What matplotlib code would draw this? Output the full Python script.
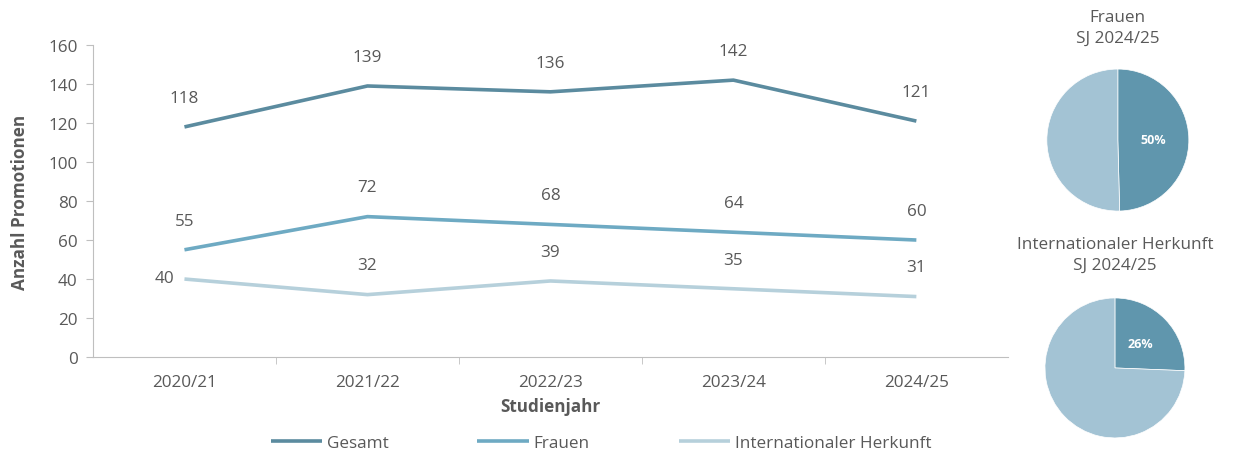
import matplotlib.pyplot as plt
import numpy as np

plt.rcParams['font.family'] = ['Open Sans', 'DejaVu Sans']

years = ['2020/21', '2021/22', '2022/23', '2023/24', '2024/25']
gesamt = [118, 139, 136, 142, 121]
frauen = [55, 72, 68, 64, 60]
intl = [40, 32, 39, 35, 31]

c_gesamt = '#5b8b9f'
c_frauen = '#6eaac3'
c_intl = '#b6d0db'
c_dark = '#6096ad'
c_light = '#a3c3d4'
txt = '#595959'
grey = '#bfbfbf'
fs = 12.3

fig = plt.figure(figsize=(12.33, 4.64), dpi=100)
ax = fig.add_axes([0.0754, 0.2284, 0.742, 0.6724])

x = np.arange(len(years))
series = [('Gesamt', gesamt, c_gesamt), ('Frauen', frauen, c_frauen),
          ('Internationaler Herkunft', intl, c_intl)]
for name, vals, col in series:
    ax.plot(x, vals, color=col, lw=2.6, label=name, solid_capstyle='butt')
    for i, v in enumerate(vals):
        if name == 'Internationaler Herkunft' and i == 0:
            ax.annotate(str(v), (i, v), xytext=(-7, 1), textcoords='offset points',
                        ha='right', va='center', fontsize=fs, color=txt)
        else:
            ax.annotate(str(v), (i, v), xytext=(0, 21), textcoords='offset points',
                        ha='center', va='center', fontsize=fs, color=txt)

ax.set_xlim(-0.5, len(years) - 0.5)
ax.set_ylim(0, 160)
ax.set_yticks(range(0, 161, 20))
ax.set_xticks(x)
ax.set_xticklabels(years)
ax.set_xticks(np.arange(0.5, len(years) - 0.5, 1), minor=True)
ax.tick_params(axis='x', which='major', length=0, pad=12, labelsize=fs, labelcolor=txt)
ax.tick_params(axis='x', which='minor', length=5, color=grey, direction='out')
ax.tick_params(axis='y', length=5, color=grey, labelsize=fs, labelcolor=txt, pad=6)
for s in ['top', 'right']:
    ax.spines[s].set_visible(False)
for s in ['left', 'bottom']:
    ax.spines[s].set_color(grey)
ax.set_xlabel('Studienjahr', fontsize=fs, fontweight='bold', color=txt, labelpad=5)
ax.set_ylabel('Anzahl Promotionen', fontsize=fs, fontweight='bold', color=txt, labelpad=14)

fig.legend(loc='lower center', bbox_to_anchor=(0.4875, -0.008), ncol=3, frameon=False,
           handlelength=3.0, handletextpad=0.3, columnspacing=5.2, fontsize=fs,
           labelcolor=txt)

# pies for the latest year
share_f = frauen[-1] / gesamt[-1]
share_i = intl[-1] / gesamt[-1]
pies = [('Frauen\nSJ 2024/25', share_f, [0.849, 0.543, 0.1152, 0.306], 0.978),
        ('Internationaler Herkunft\nSJ 2024/25', share_i, [0.8475, 0.054, 0.1135, 0.3017], 0.49)]
for title, share, rect, ty in pies:
    pa = fig.add_axes(rect)
    pa.pie([share, 1 - share], colors=[c_dark, c_light], startangle=90, counterclock=False,
           radius=1, wedgeprops=dict(linewidth=0.5, edgecolor='white'))
    pa.set_xlim(-1, 1)
    pa.set_ylim(-1, 1)
    pa.set_aspect('equal')
    ang = np.deg2rad(90 - 360 * share / 2)
    r = 0.5
    pa.text(r * np.cos(ang), r * np.sin(ang), f'{round(share * 100)}%',
            ha='center', va='center', color='white', fontsize=9, fontweight='bold')
    fig.text(rect[0] + rect[2] / 2, ty, title, ha='center', va='top',
             fontsize=fs, color=txt, linespacing=1.4)

fig.savefig('out.png', dpi=100)
